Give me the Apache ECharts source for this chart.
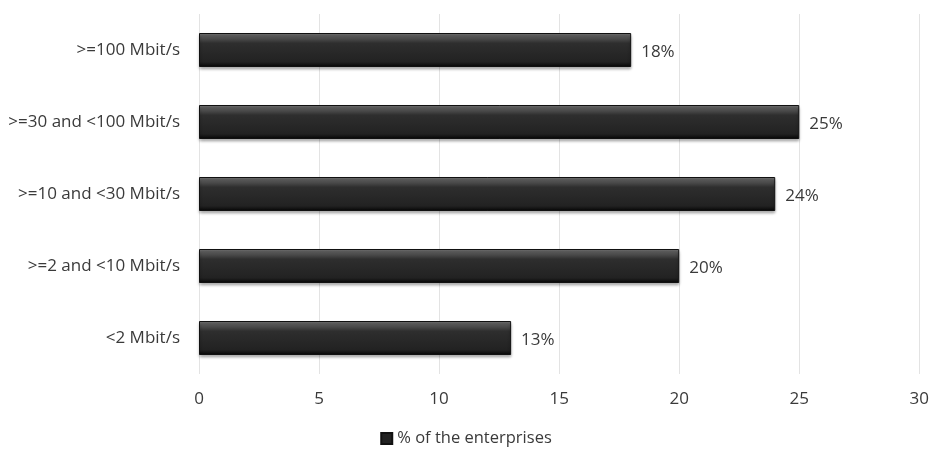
<!DOCTYPE html>
<html><head><meta charset="utf-8">
<script src="https://cdn.jsdelivr.net/npm/echarts@6/dist/echarts.min.js"></script>
<style>html,body{margin:0;padding:0;background:#fff}#c{width:932px;height:450px}</style>
</head><body><div id="c"></div>
<script>
const categories = ['<2 Mbit/s', '>=2 and <10 Mbit/s', '>=10 and <30 Mbit/s', '>=30 and <100 Mbit/s', '>=100 Mbit/s'];
const values = [13, 20, 24, 25, 18];
const seriesName = '% of the enterprises';
const FONT = 'Open Sans';
const TXT = '#3a3a3a';
const chart = echarts.init(document.getElementById('c'));
chart.setOption({
  animation: false,
  textStyle: { fontFamily: FONT },
  grid: { left: 199, right: 11, top: 14, bottom: 76, containLabel: false },
  legend: {
    top: 430, left: 'center', itemWidth: 11, itemHeight: 11, itemGap: 5, padding: 0,
    icon: 'rect',
    textStyle: { fontFamily: FONT, fontSize: 16.5, color: TXT },
    data: [{ name: seriesName, itemStyle: { color: '#222' } }]
  },
  xAxis: {
    type: 'value', min: 0, max: 30, interval: 5,
    axisLine: { show: false }, axisTick: { show: false },
    splitLine: { lineStyle: { color: '#e3e3e3', width: 1 } },
    axisLabel: { fontFamily: FONT, fontSize: 17, color: TXT, margin: 17 }
  },
  yAxis: {
    type: 'category', data: categories,
    axisLine: { show: false }, axisTick: { show: false },
    axisLabel: { fontFamily: FONT, fontSize: 17, color: TXT, margin: 19, padding: [3, 0, 0, 0] }
  },
  series: [{
    name: seriesName, type: 'bar', data: values, barWidth: 34,
    itemStyle: {
      color: new echarts.graphic.LinearGradient(0, 0, 0, 1, [
        { offset: 0, color: '#7a7a7a' },
        { offset: 0.12, color: '#555' },
        { offset: 0.3, color: '#2e2e2e' },
        { offset: 0.85, color: '#222' },
        { offset: 1, color: '#050505' }
      ]),
      borderColor: '#111', borderWidth: 1,
      shadowColor: 'rgba(0,0,0,0.35)', shadowBlur: 3, shadowOffsetY: 2
    },
    label: {
      show: true, position: 'right', distance: 10, formatter: '{c}%',
      fontFamily: FONT, fontSize: 17, color: TXT, offset: [0, 2]
    }
  }]
});
</script></body></html>
